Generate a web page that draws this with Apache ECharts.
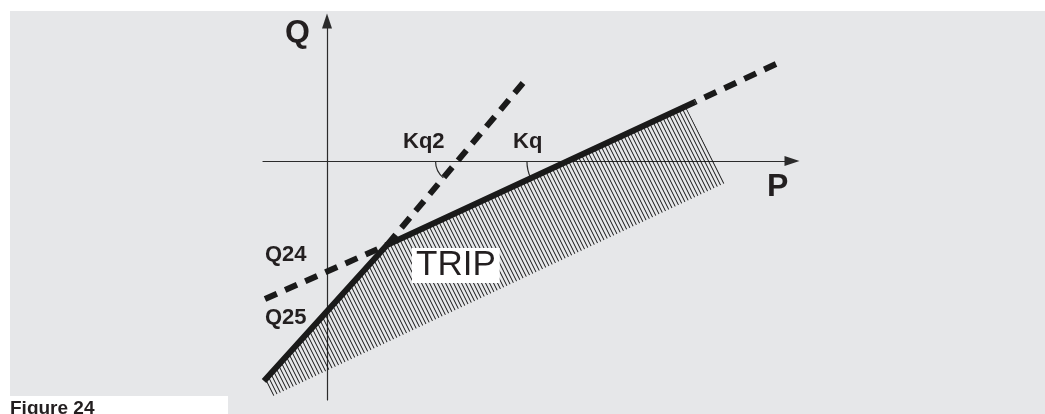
<!DOCTYPE html>
<html>
<head>
<meta charset="UTF-8">
<script src="https://cdn.jsdelivr.net/npm/echarts@6/dist/echarts.min.js"></script>
<style>
html, body { margin: 0; padding: 0; background: #fff; }
#chart { width: 1045px; height: 414px; }
</style>
</head>
<body>
<div id="chart"></div>
<script>
// ========================
// data (diagram units, origin where the P and Q axes cross)
// ========================

const tripCurve = [[-6.3, -22.0], [6.0, -8.4], [36.8, 5.9]];   // solid trip characteristic
const kqLow = [[-6.2, -13.8], [6.0, -8.4]];                     // Kq slope, dashed part left of the knee
const kqHigh = [[44.9, 9.7], [36.8, 5.9]];                      // Kq slope, dashed part past the end
const kq2Line = [[19.6, 7.8], [6.0, -8.4]];                     // Kq2 slope, dashed
const tripZone = [[-6.3, -22.0], [6.0, -8.4], [35.9, 5.4], [39.8, -2.2], [-5.4, -23.5]];
const rangeP = [-6.4, 46.5];
const rangeQ = [-23.9, 14];

// ========================
// helpers
// ========================

// where a line through a and b crosses the P axis
function crossP(a, b) {
    return [a[0] - a[1] * (b[0] - a[0]) / (b[1] - a[1]), 0];
}

const angleLines = [kq2Line, [tripCurve[1], tripCurve[2]]];
const angleCentres = angleLines.map(l => crossP(l[0], l[1]));
const arcRadius = [22, 41];

// hatch tile, thin lines falling to the right
const hatch = document.createElement('canvas');
hatch.width = 4;
hatch.height = 8;
const hc = hatch.getContext('2d');
hc.strokeStyle = '#111';
hc.lineWidth = 1;
hc.beginPath();
[-4, 0, 4].forEach(dx => {
    hc.moveTo(dx - 1, -2);
    hc.lineTo(dx + 5, 10);
});
hc.stroke();

const INK = '#1a1a1a';
const FONT = '"Liberation Sans", Arial, sans-serif';

function label(text, x, y, size, weight, extra) {
    return {
        type: 'text',
        z: 100,
        style: Object.assign({
            text: text,
            x: x,
            y: y,
            font: `${weight} ${size}px ${FONT}`,
            fill: '#231f20',
            align: 'left',
            verticalAlign: 'middle'
        }, extra || {})
    };
}

function dashed(data) {
    return {
        type: 'line',
        data: data,
        symbol: 'none',
        silent: true,
        z: 3,
        lineStyle: { color: INK, width: 6, type: [13, 9], cap: 'butt' }
    };
}

const axisCommon = {
    type: 'value',
    axisTick: { show: false },
    axisLabel: { show: false },
    splitLine: { show: false }
};

const chart = echarts.init(document.getElementById('chart'));

chart.setOption({
    animation: false,
    backgroundColor: '#fff',
    grid: { left: 263, right: 253, top: 21, bottom: 14 },
    xAxis: Object.assign({}, axisCommon, {
        min: rangeP[0],
        max: rangeP[1],
        axisLine: {
            onZero: true,
            symbol: ['none', 'triangle'],
            symbolSize: [10, 15],
            lineStyle: { color: '#2b2b2b', width: 1.2 }
        }
    }),
    yAxis: Object.assign({}, axisCommon, {
        min: rangeQ[0],
        max: rangeQ[1],
        axisLine: {
            onZero: true,
            symbol: ['none', 'triangle'],
            symbolSize: [10, 15],
            lineStyle: { color: '#2b2b2b', width: 1.2 }
        }
    }),
    graphic: [
        { type: 'rect', z: -10, shape: { x: 10, y: 11, width: 1035, height: 403 }, style: { fill: '#e6e7e9' } },
        { type: 'rect', z: -9, shape: { x: 0, y: 396, width: 228, height: 18 }, style: { fill: '#fff' } },
        label('Q', 285, 33, 32, 'bold'),
        label('P', 767, 187, 32, 'bold'),
        label('Kq2', 403, 142, 22, 'bold'),
        label('Kq', 513, 142, 22, 'bold'),
        label('Q24', 265, 255, 22, 'bold'),
        label('Q25', 265, 318, 22, 'bold'),
        label('TRIP', 412, 265.5, 35, 'normal', {
            backgroundColor: '#fff',
            padding: [1, 4, 1, 4],
            lineHeight: 33
        }),
        label('Figure 24', 10, 409, 19, 'bold')
    ],
    series: [
        {
            type: 'custom',
            silent: true,
            z: 1,
            data: [tripZone[0]],
            renderItem: function (params, api) {
                const pts = tripZone.map(p => api.coord(p));
                return {
                    type: 'polygon',
                    shape: { points: pts },
                    style: { fill: { image: hatch, repeat: 'repeat' }, stroke: null }
                };
            }
        },
        dashed(kqLow),
        dashed(kqHigh),
        dashed(kq2Line),
        {
            type: 'line',
            data: tripCurve,
            symbol: 'none',
            silent: true,
            z: 4,
            lineStyle: { color: INK, width: 6, cap: 'butt', join: 'miter' }
        },
        {
            type: 'custom',
            silent: true,
            z: 2,
            data: angleCentres,
            renderItem: function (params, api) {
                const c = api.coord([api.value(0), api.value(1)]);
                const l = angleLines[params.dataIndex];
                const low = api.coord(l[0][1] < l[1][1] ? l[0] : l[1]);
                const a = Math.atan2(low[1] - c[1], low[0] - c[0]);
                return {
                    type: 'arc',
                    shape: { cx: c[0], cy: c[1], r: arcRadius[params.dataIndex], startAngle: a, endAngle: Math.PI, clockwise: true },
                    style: { stroke: '#2b2b2b', fill: 'none', lineWidth: 1.2 }
                };
            }
        }
    ]
});
</script>
</body>
</html>
